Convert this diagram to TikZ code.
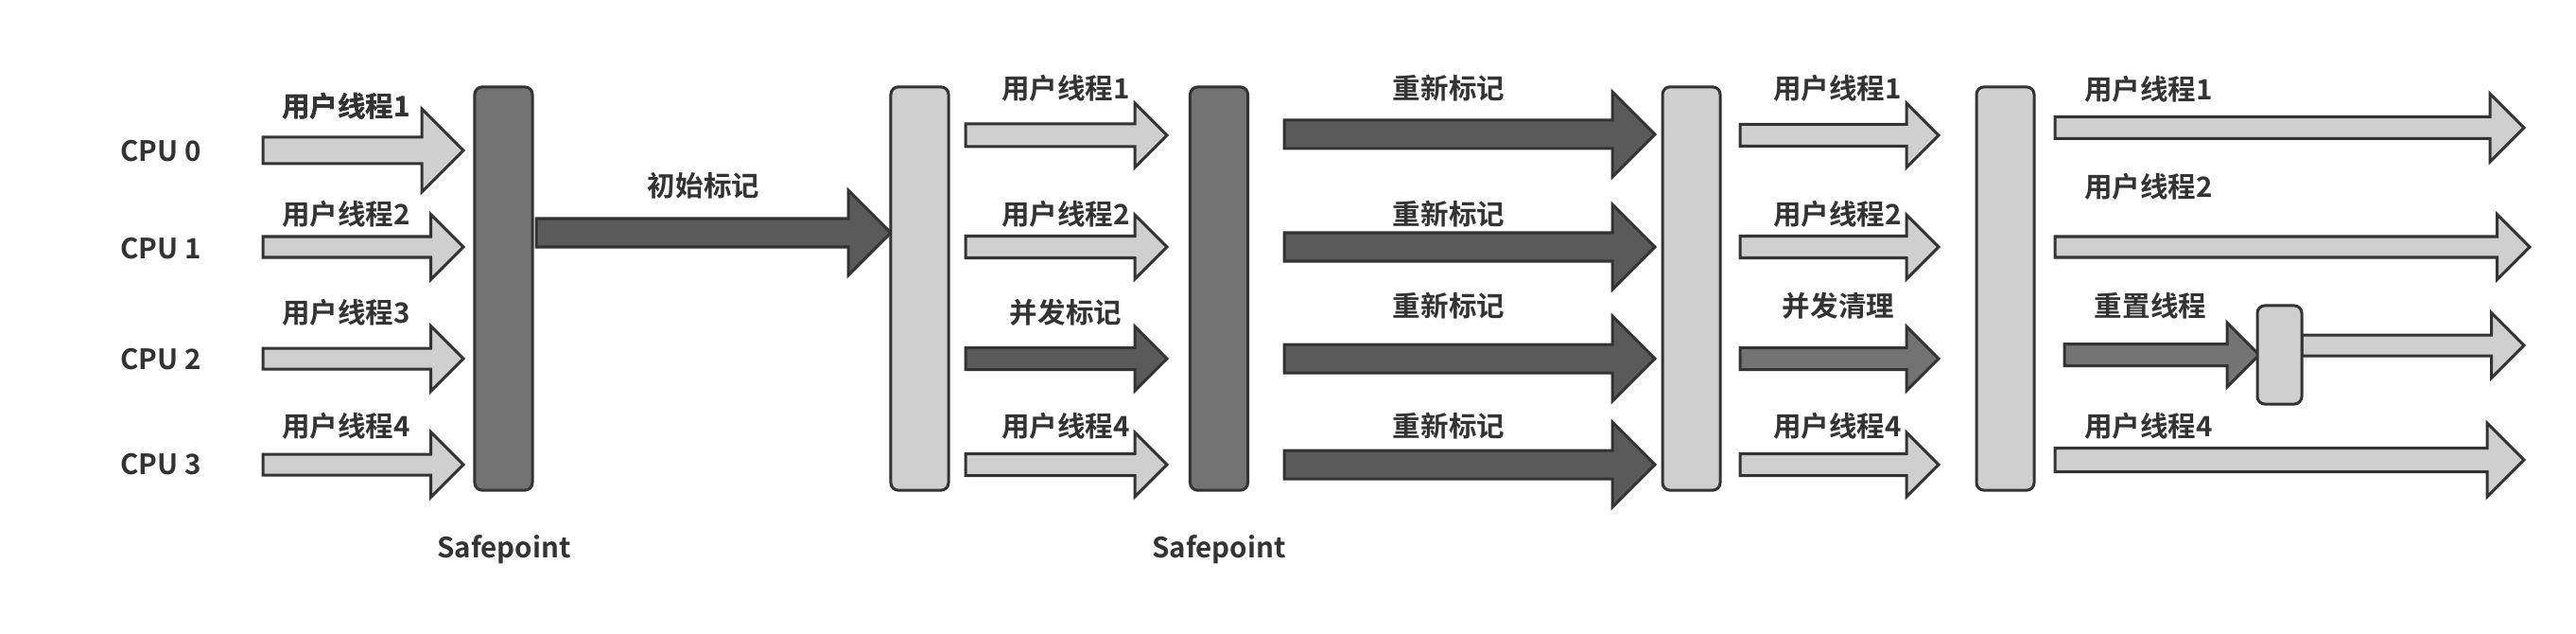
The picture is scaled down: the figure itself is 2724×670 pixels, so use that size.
\documentclass[tikz,border=0pt]{standalone}
\usepackage{fontspec}
\setmainfont{Noto Sans CJK SC}[BoldFont={* Bold}]
\definecolor{edge}{HTML}{333333}
\definecolor{pale}{HTML}{CFCFCF}
\definecolor{deep}{HTML}{5A5A5A}
\definecolor{mid}{HTML}{737373}
\tikzset{
  lbl/.style={text=edge,font=\fontsize{8.4}{10}\selectfont\bfseries,inner sep=0pt},
  bar/.style={draw=edge,line width=0.03cm,rounded corners=0.08cm,minimum width=0.61cm,minimum height=4.26cm,inner sep=0pt},
  arr/.style={draw=edge,line width=0.03cm,line join=miter}
}
% block arrow: style, tail x, tip x, y, half body, half head
\newcommand{\barrow}[6]{%
  \draw[arr,fill=#1] (#2,#4-#5) -- (#3-#6,#4-#5) -- (#3-#6,#4-#6) -- (#3,#4)
    -- (#3-#6,#4+#6) -- (#3-#6,#4+#5) -- (#2,#4+#5) -- cycle;}
\begin{document}
\begin{tikzpicture}[x=0.01cm,y=-0.01cm]
\useasboundingbox[fill=white] (0,0) rectangle (2724,670);

\foreach \i/\y in {0/160,1/263,2/380,3/491}
	\node[lbl] (cpu\i) at (170,\y) {CPU \i};

\barrow{pale}{278}{490}{159}{14}{44}
\foreach \y in {261,379,491}
	\barrow{pale}{278}{490}{\y}{11}{34.5}
\node[lbl] (ut1a) at (366,112) {用户线程1};
\node[lbl] (ut2a) at (366,226) {用户线程2};
\node[lbl] (ut3a) at (366,330) {用户线程3};
\node[lbl] (ut4a) at (366,450) {用户线程4};

\node[bar,fill=mid] (sp1) at (532.5,305) {};
\node[lbl] (sp1lab) at (533,581) {Safepoint};

\barrow{deep}{567}{942}{246}{15}{45}
\node[lbl] (init) at (744,196) {初始标记};

\node[bar,fill=pale] (bar2) at (972.5,305) {};

\barrow{pale}{1021}{1234}{143}{12}{34}
\barrow{pale}{1021}{1234}{261}{11.5}{34}
\barrow{deep}{1021}{1234}{379}{11.5}{34}
\barrow{pale}{1021}{1234}{491}{11.5}{34}
\node[lbl] (ut1b) at (1127,93) {用户线程1};
\node[lbl] (ut2b) at (1127,226) {用户线程2};
\node[lbl] (cmark) at (1127,330) {并发标记};
\node[lbl] (ut4b) at (1127,450) {用户线程4};

\node[bar,fill=mid] (sp2) at (1289,305) {};
\node[lbl] (sp2lab) at (1289,581) {Safepoint};

\foreach \y/\t in {142/93,261/226,379/323,491/450}{
	\barrow{deep}{1358}{1750}{\y}{15}{45}
	\node[lbl] (remark\y) at (1532,\t) {重新标记};
}

\node[bar,fill=pale] (bar4) at (1788.5,305) {};

\barrow{pale}{1840}{2050}{143}{11.5}{34}
\barrow{pale}{1840}{2050}{261}{11.5}{34}
\barrow{mid}{1840}{2050}{379}{11.5}{34}
\barrow{pale}{1840}{2050}{491}{11.5}{34}
\node[lbl] (ut1c) at (1943,93) {用户线程1};
\node[lbl] (ut2c) at (1943,226) {用户线程2};
\node[lbl] (csweep) at (1944,323) {并发清理};
\node[lbl] (ut4c) at (1943,450) {用户线程4};

\node[bar,fill=pale] (bar5) at (2120.5,305) {};

\barrow{pale}{2173}{2669}{135}{11.5}{36}
\barrow{pale}{2173}{2675}{261}{11}{34.5}
\barrow{mid}{2183}{2389}{375}{11.5}{34}
\barrow{pale}{2434}{2669}{365}{11}{34.5}
\barrow{pale}{2173}{2669}{486}{12.5}{39}
\node[bar,fill=pale,minimum width=0.47cm,minimum height=1.04cm] (reset) at (2410.5,375) {};
\node[lbl] (ut1d) at (2272,94) {用户线程1};
\node[lbl] (ut2d) at (2272,197) {用户线程2};
\node[lbl] (rthread) at (2274,323) {重置线程};
\node[lbl] (ut4d) at (2272,450) {用户线程4};

\end{tikzpicture}
\end{document}
